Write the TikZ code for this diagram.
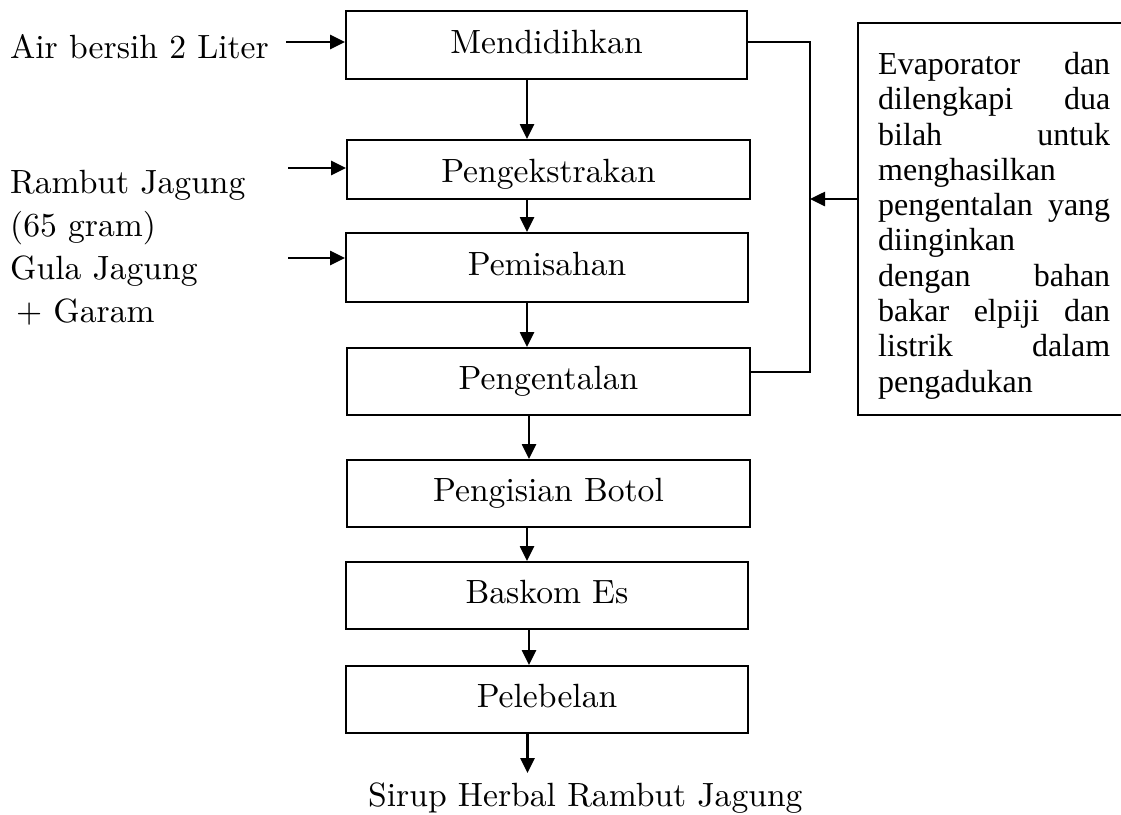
\documentclass[tikz,border=0pt]{standalone}
\usepackage{fontspec}
\setmainfont{lmroman10-regular.otf}
\newfontfamily\timesfont{Liberation Serif}
\usetikzlibrary{arrows.meta}
\newcommand\mainsize{\fontsize{33.6pt}{43pt}\selectfont}
\newcommand\evsize{\timesfont\fontsize{32pt}{35.3pt}\selectfont}
\newcommand\jline[1]{\makebox[232pt][l]{#1}}
\begin{document}
\begin{tikzpicture}[x=1pt,y=-1pt,
  procbox/.style={draw, line width=2pt, inner sep=0pt, text height=23pt, text depth=7pt, font=\mainsize},
  flow/.style={line width=2.6pt, -{Triangle[length=15pt,width=14pt]}},
  link/.style={line width=1.8pt},
  lbl/.style={font=\mainsize, inner sep=0pt, anchor=base west}]
\useasboundingbox (0,0) rectangle (1121,814);

% process boxes
\node[procbox, minimum width=401pt, minimum height=68pt] (mend) at (546.5,45) {Mendidihkan};
\node[procbox, minimum width=403pt, minimum height=59pt, text height=32pt] (peng) at (548.5,169.5) {Pengekstrakan};
\node[procbox, minimum width=402pt, minimum height=69pt] (pemis) at (547,267.5) {Pemisahan};
\node[procbox, minimum width=403pt, minimum height=67pt] (pengent) at (548.5,381.5) {Pengentalan};
\node[procbox, minimum width=403pt, minimum height=67pt] (pengis) at (548.5,493.5) {Pengisian Botol};
\node[procbox, minimum width=402pt, minimum height=67pt] (baskom) at (547,595.5) {Baskom Es};
\node[procbox, minimum width=402pt, minimum height=67pt] (pelebel) at (547,699.5) {Pelebelan};

% left inputs
\node[lbl] (air) at (10,58) {Air bersih 2 Liter};
\node[lbl] (rambutA) at (10,193) {Rambut Jagung};
\node[lbl] (rambutB) at (10,236) {(65 gram)};
\node[lbl] (gulaA) at (10,279) {Gula Jagung};
\node[lbl] (gulaB) at (10,322) {\hspace{6pt}+ Garam};

\coordinate (airS) at (286,42);
\coordinate (rambS) at (288,168);
\coordinate (gulaS) at (288,258);
\draw[flow] (airS) -- (airS -| mend.west);
\draw[flow] (rambS) -- (rambS -| peng.west);
\draw[flow] (gulaS) -- (gulaS -| pemis.west);

% vertical flow
\coordinate (xa) at (527,0);
\coordinate (xb) at (529,0);
\draw[flow] (xa |- mend.south) -- (xa |- peng.north);
\draw[flow] (xa |- peng.south) -- (xa |- pemis.north);
\draw[flow] (xa |- pemis.south) -- (xa |- pengent.north);
\draw[flow] (xb |- pengent.south) -- (xb |- pengis.north);
\draw[flow] (xa |- pengis.south) -- (xa |- baskom.north);
\draw[flow] (xb |- baskom.south) -- (xb |- pelebel.north);
\coordinate (outend) at (527.5,773);
\draw[flow] (outend |- pelebel.south) -- (outend);
\node[lbl] (sirup) at (368,806) {Sirup Herbal Rambut Jagung};

% bracket connector
\coordinate (bus) at (810,0);
\coordinate (topY) at (0,42);
\coordinate (botY) at (0,372);
\draw[link] (topY -| mend.east) -- (topY -| bus) -- (botY -| bus) -- (botY -| pengent.east);

% evaporator box
\coordinate (evTR) at (1121,23);
\coordinate (evTL) at (858,23);
\coordinate (evBL) at (858,415);
\coordinate (evBR) at (1121,415);
\draw[link] (evTR) -- (evTL) -- (evBL) -- (evBR);
\node[anchor=north west, inner sep=0pt, text width=232pt, align=left, font=\evsize] (evap) at (878,52)
 {\jline{Evaporator\hfill dan}\\
  \jline{dilengkapi\hfill dua}\\
  \jline{bilah\hfill untuk}\\
  menghasilkan\\
  \jline{pengentalan\hfill yang}\\
  diinginkan\\
  \jline{dengan\hfill bahan}\\
  \jline{bakar\hfill elpiji\hfill dan}\\
  \jline{listrik\hfill dalam}\\
  pengadukan};
\coordinate (evArrow) at (858,199);
\draw[flow] (evArrow) -- (evArrow -| bus);
\end{tikzpicture}
\end{document}
